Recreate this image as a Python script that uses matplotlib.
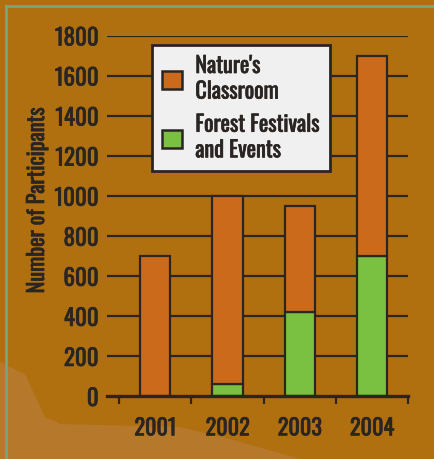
import matplotlib
matplotlib.use("Agg")
import matplotlib.pyplot as plt
import matplotlib.patheffects as pe
from matplotlib.patches import Polygon, Patch
import numpy as np

years = ["2001", "2002", "2003", "2004"]
forest = [0, 60, 420, 700]             # Forest Festivals and Events (bottom part)
nature_total = [700, 1000, 950, 1700]  # top of each stacked bar
nature = [t - f for t, f in zip(nature_total, forest)]
yticks = [0, 200, 400, 600, 800, 1000, 1200, 1400, 1600, 1800]
legend_labels = ["Nature's\nClassroom", "Forest Festivals\nand Events"]

bg = "#b07010"
dark = "#2a2522"
orange = "#cc6a1c"
green = "#7ac142"

plt.rcParams['font.family'] = ['Oswald', 'DejaVu Sans']
# Oswald only ships a regular weight here, thicken strokes a little
bold = [pe.withStroke(linewidth=0.5, foreground=dark)]

fig = plt.figure(figsize=(4.35, 4.6), dpi=100, facecolor=bg)

# lighter decorative shape in the bottom left corner (pixel coords from top-left)
pts = [(0, 363), (25, 375), (45, 418), (60, 425), (180, 428), (230, 440), (300, 460), (0, 460)]
shape = Polygon([(px / 435, 1 - py / 460) for px, py in pts], closed=True,
                transform=fig.transFigure, facecolor="#b6782a", edgecolor="none", zorder=-5)
fig.patches.append(shape)

# thin green frame lines, top and left
fig.add_artist(plt.Line2D([0.014, 1], [0.985, 0.985], transform=fig.transFigure, color="#78a678", lw=2))
fig.add_artist(plt.Line2D([0.014, 0.014], [0, 0.985], transform=fig.transFigure, color="#78a678", lw=2))

ax = fig.add_axes([0.246, 0.1359, 0.692, 0.7837])
ax.set_facecolor("none")

x = np.arange(len(years))
w = 0.42
ax.bar(x, forest, w, color=green, edgecolor=dark, linewidth=1.6, zorder=3)
ax.bar(x, nature, w, bottom=forest, color=orange, edgecolor=dark, linewidth=1.6, zorder=3)

for t in yticks[1:]:
    ax.axhline(t, color=dark, lw=1.6, zorder=1)

ax.set_xlim(-0.667, 3.5)
ax.set_ylim(0, 1800)
ax.set_yticks(yticks)
ax.set_yticklabels([str(t) for t in yticks], fontsize=16.5, color=dark)
ax.tick_params(axis='y', length=0, pad=6)

ax.set_xticks(x)
ax.set_xticklabels(years, fontsize=16, color=dark)
ax.tick_params(axis='x', length=0, pad=15)
ax.set_xticks(np.arange(-0.5, 4, 1), minor=True)
ax.tick_params(axis='x', which='minor', length=6, width=1.6, color=dark, direction='out')

for lab in ax.get_xticklabels() + ax.get_yticklabels():
    lab.set_path_effects(bold)

for s in ["top", "right", "left"]:
    ax.spines[s].set_visible(False)
ax.spines["bottom"].set_color(dark)
ax.spines["bottom"].set_linewidth(2.4)
ax.spines["bottom"].set_zorder(4)

ylab = ax.set_ylabel("Number of Participants", fontsize=16, color=dark)
ax.yaxis.set_label_coords(-0.196, 0.545)
ylab.set_path_effects(bold)

handles = [Patch(facecolor=orange, edgecolor=dark, linewidth=1.8),
           Patch(facecolor=green, edgecolor=dark, linewidth=1.8)]
leg = ax.legend(handles, legend_labels,
                loc="upper left", bbox_to_anchor=(0.1495, 0.975), fontsize=16,
                frameon=True, fancybox=False, framealpha=1, handlelength=0.9,
                handleheight=0.9, handletextpad=0.6, labelspacing=0.5,
                borderpad=0.45, borderaxespad=0, labelcolor=dark)
leg.get_frame().set_facecolor("#f0f0f0")
leg.get_frame().set_edgecolor(dark)
leg.get_frame().set_linewidth(2)
leg.set_zorder(5)
for t in leg.get_texts():
    t.set_path_effects(bold)
    t.set_linespacing(1.2)

fig.savefig("out.png", dpi=100, facecolor=bg)
